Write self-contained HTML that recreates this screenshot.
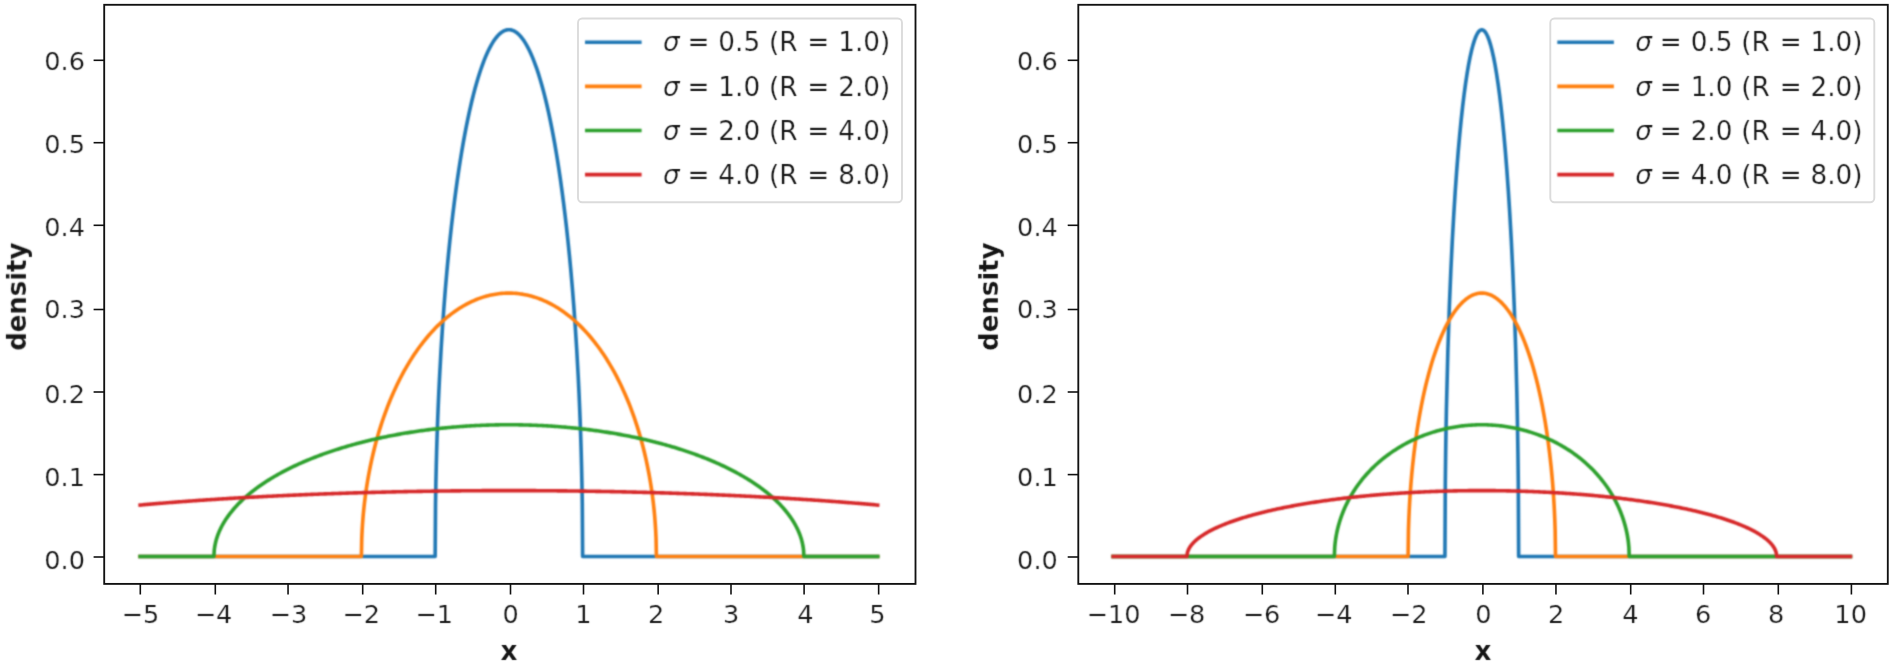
<!DOCTYPE html><html><head><meta charset="utf-8"><title>Wigner semicircle densities</title><style>html,body{margin:0;padding:0;background:#fff;overflow:hidden}svg{display:block}text{font-family:"DejaVu Sans","Liberation Sans",sans-serif;fill:#151515;stroke:#fff;stroke-width:0.2px}.b{font-weight:bold}.lg{word-spacing:0.5px}</style></head><body>
<svg width="1892" height="670" viewBox="0 0 1892 670">
<defs>
<filter id="bl" x="0" y="0" width="1892" height="670" filterUnits="userSpaceOnUse" color-interpolation-filters="sRGB"><feConvolveMatrix order="5" kernelMatrix="0.00000 0.00013 0.00070 0.00013 0.00000 0.00013 0.01910 0.09973 0.01910 0.00013 0.00070 0.09973 0.52080 0.09973 0.00070 0.00013 0.01910 0.09973 0.01910 0.00013 0.00000 0.00013 0.00070 0.00013 0.00000" edgeMode="duplicate" preserveAlpha="false"/></filter>
<filter id="blc" x="0" y="0" width="1892" height="670" filterUnits="userSpaceOnUse" color-interpolation-filters="sRGB"><feConvolveMatrix order="5" kernelMatrix="0.00048 0.00501 0.01095 0.00501 0.00048 0.00501 0.05222 0.11405 0.05222 0.00501 0.01095 0.11405 0.24912 0.11405 0.01095 0.00501 0.05222 0.11405 0.05222 0.00501 0.00048 0.00501 0.01095 0.00501 0.00048" edgeMode="duplicate" preserveAlpha="false"/></filter>
</defs>
<rect width="1892" height="670" fill="#fff"/>
<g filter="url(#blc)">
<polyline points="140.15,556.45 435.15,556.45 435.52,503.84 435.89,482.14 436.26,465.56 436.62,451.63 436.99,439.41 437.36,428.40 437.73,418.31 438.10,408.96 438.47,400.22 438.84,391.98 439.58,376.74 441.05,350.01 442.52,326.85 444.00,306.26 445.47,287.66 446.95,270.65 448.42,254.96 449.90,240.41 451.37,226.83 452.85,214.11 454.32,202.16 455.80,190.91 457.27,180.28 458.75,170.24 460.22,160.73 461.70,151.72 463.17,143.17 464.65,135.06 466.12,127.36 467.60,120.05 469.07,113.11 470.55,106.53 472.02,100.28 473.50,94.36 474.97,88.75 476.45,83.44 477.92,78.42 479.40,73.69 480.88,69.22 482.35,65.03 483.82,61.09 485.30,57.41 486.77,53.97 488.25,50.78 489.73,47.83 491.20,45.11 492.68,42.62 494.15,40.35 495.62,38.31 497.10,36.50 498.57,34.90 500.05,33.52 501.52,32.35 503.00,31.40 504.48,30.66 505.95,30.13 507.43,29.82 508.90,29.71 510.38,29.82 511.85,30.13 513.33,30.66 514.80,31.40 516.27,32.35 517.75,33.52 519.22,34.90 520.70,36.50 522.17,38.31 523.65,40.35 525.12,42.62 526.60,45.11 528.07,47.83 529.55,50.78 531.02,53.97 532.50,57.41 533.97,61.09 535.45,65.03 536.92,69.22 538.40,73.69 539.88,78.42 541.35,83.44 542.82,88.75 544.30,94.36 545.77,100.28 547.25,106.53 548.73,113.11 550.20,120.05 551.67,127.36 553.15,135.06 554.62,143.17 556.10,151.72 557.58,160.73 559.05,170.24 560.52,180.28 562.00,190.91 563.48,202.16 564.95,214.11 566.42,226.83 567.90,240.41 569.38,254.96 570.85,270.65 572.33,287.66 573.80,306.26 575.27,326.85 576.75,350.01 578.23,376.74 578.96,391.98 579.33,400.22 579.70,408.96 580.07,418.31 580.44,428.40 580.81,439.41 581.17,451.63 581.54,465.56 581.91,482.14 582.28,503.84 582.65,556.45 877.65,556.45" fill="none" stroke="#1f77b4" stroke-width="3.60" stroke-linejoin="round" stroke-linecap="square"/>
<polyline points="140.15,556.45 361.40,556.45 361.77,537.84 362.14,530.15 362.51,524.25 362.88,519.30 363.24,514.94 363.61,511.00 363.98,507.39 364.35,504.04 364.72,500.90 365.09,497.93 365.46,495.11 365.82,492.42 366.19,489.85 366.56,487.38 366.93,485.00 367.30,482.71 367.67,480.49 368.04,478.33 368.41,476.24 368.77,474.21 370.25,466.60 371.73,459.65 373.20,453.23 374.67,447.25 376.15,441.65 377.62,436.36 379.10,431.36 380.57,426.60 382.05,422.05 383.52,417.71 385.00,413.55 386.47,409.55 387.95,405.71 389.42,402.00 390.90,398.43 392.38,394.98 393.85,391.64 395.32,388.41 396.80,385.28 398.27,382.25 399.75,379.31 401.22,376.45 402.70,373.68 404.17,370.98 405.65,368.37 407.12,365.82 408.60,363.34 410.07,360.93 411.55,358.59 413.02,356.31 414.50,354.08 415.98,351.92 417.45,349.81 418.93,347.76 420.40,345.75 421.88,343.80 423.35,341.90 424.82,340.05 426.30,338.25 427.77,336.49 429.25,334.78 430.72,333.11 432.20,331.49 433.67,329.91 435.15,328.37 436.62,326.86 438.10,325.40 439.58,323.98 441.05,322.60 442.52,321.25 444.00,319.94 445.47,318.67 446.95,317.44 448.42,316.23 449.90,315.07 451.37,313.94 452.85,312.84 454.32,311.77 455.80,310.74 457.27,309.74 458.75,308.77 460.22,307.83 461.70,306.93 463.17,306.05 464.65,305.21 466.12,304.40 467.60,303.62 469.07,302.86 470.55,302.14 472.02,301.44 473.50,300.78 474.97,300.14 476.45,299.53 477.92,298.95 479.40,298.40 480.88,297.88 482.35,297.38 483.82,296.91 485.30,296.47 486.77,296.06 488.25,295.67 489.73,295.32 491.20,294.98 492.68,294.68 494.15,294.40 495.62,294.15 497.10,293.92 498.57,293.73 500.05,293.55 501.52,293.41 503.00,293.29 504.48,293.20 505.95,293.13 507.43,293.09 508.90,293.08 510.38,293.09 511.85,293.13 513.33,293.20 514.80,293.29 516.27,293.41 517.75,293.55 519.22,293.73 520.70,293.92 522.17,294.15 523.65,294.40 525.12,294.68 526.60,294.98 528.07,295.32 529.55,295.67 531.02,296.06 532.50,296.47 533.97,296.91 535.45,297.38 536.92,297.88 538.40,298.40 539.88,298.95 541.35,299.53 542.82,300.14 544.30,300.78 545.77,301.44 547.25,302.14 548.73,302.86 550.20,303.62 551.67,304.40 553.15,305.21 554.62,306.05 556.10,306.93 557.58,307.83 559.05,308.77 560.52,309.74 562.00,310.74 563.48,311.77 564.95,312.84 566.42,313.94 567.90,315.07 569.38,316.23 570.85,317.44 572.33,318.67 573.80,319.94 575.27,321.25 576.75,322.60 578.23,323.98 579.70,325.40 581.17,326.86 582.65,328.37 584.12,329.91 585.60,331.49 587.08,333.11 588.55,334.78 590.02,336.49 591.50,338.25 592.98,340.05 594.45,341.90 595.92,343.80 597.40,345.75 598.88,347.76 600.35,349.81 601.82,351.92 603.30,354.08 604.77,356.31 606.25,358.59 607.72,360.93 609.20,363.34 610.67,365.82 612.15,368.37 613.62,370.98 615.10,373.68 616.57,376.45 618.05,379.31 619.52,382.25 621.00,385.28 622.48,388.41 623.95,391.64 625.42,394.98 626.90,398.43 628.38,402.00 629.85,405.71 631.33,409.55 632.80,413.55 634.27,417.71 635.75,422.05 637.23,426.60 638.70,431.36 640.17,436.36 641.65,441.65 643.12,447.25 644.60,453.23 646.08,459.65 647.55,466.60 649.02,474.21 649.39,476.24 649.76,478.33 650.13,480.49 650.50,482.71 650.87,485.00 651.24,487.38 651.61,489.85 651.98,492.42 652.34,495.11 652.71,497.93 653.08,500.90 653.45,504.04 653.82,507.39 654.19,511.00 654.56,514.94 654.92,519.30 655.29,524.25 655.66,530.15 656.03,537.84 656.40,556.45 877.65,556.45" fill="none" stroke="#ff7f0e" stroke-width="3.60" stroke-linejoin="round" stroke-linecap="square"/>
<polyline points="140.15,556.45 213.90,556.45 214.27,549.87 214.64,547.14 215.01,545.06 215.38,543.30 215.74,541.75 216.11,540.35 216.48,539.07 216.85,537.87 217.22,536.75 217.59,535.69 217.96,534.69 218.32,533.73 218.69,532.81 219.06,531.92 219.43,531.07 219.80,530.25 220.17,529.45 220.54,528.67 220.91,527.92 221.27,527.19 221.64,526.48 222.01,525.78 222.38,525.10 222.75,524.44 223.12,523.79 223.49,523.15 223.86,522.53 224.22,521.92 224.59,521.32 224.96,520.73 225.33,520.15 225.70,519.58 226.07,519.02 226.44,518.47 226.81,517.93 227.17,517.39 227.54,516.87 227.91,516.35 228.28,515.84 228.65,515.33 230.12,513.38 231.60,511.52 233.07,509.75 234.55,508.05 236.02,506.41 237.50,504.84 238.97,503.32 240.45,501.85 241.92,500.43 243.40,499.05 244.88,497.71 246.35,496.41 247.82,495.14 249.30,493.90 250.77,492.70 252.25,491.52 253.72,490.37 255.20,489.25 256.67,488.15 258.15,487.08 259.62,486.03 261.10,485.00 262.57,483.99 264.05,483.00 265.52,482.03 267.00,481.08 268.48,480.14 269.95,479.23 271.42,478.32 272.90,477.44 274.38,476.57 275.85,475.71 277.32,474.87 278.80,474.04 280.27,473.23 281.75,472.43 283.22,471.64 284.70,470.87 286.17,470.10 287.65,469.35 289.12,468.61 290.60,467.88 292.07,467.16 293.55,466.45 295.02,465.75 296.50,465.06 297.98,464.39 299.45,463.72 300.92,463.06 302.40,462.41 303.88,461.77 305.35,461.14 306.82,460.51 308.30,459.90 309.77,459.29 311.25,458.69 312.72,458.10 314.20,457.52 315.67,456.95 317.15,456.38 318.62,455.82 320.10,455.27 321.57,454.72 323.05,454.18 324.52,453.65 326.00,453.13 327.47,452.61 328.95,452.10 330.42,451.60 331.90,451.10 333.38,450.61 334.85,450.13 336.32,449.65 337.80,449.18 339.27,448.71 340.75,448.25 342.23,447.80 343.70,447.35 345.17,446.91 346.65,446.47 348.12,446.04 349.60,445.62 351.07,445.20 352.55,444.78 354.02,444.37 355.50,443.97 356.97,443.57 358.45,443.18 359.92,442.79 361.40,442.41 362.88,442.03 364.35,441.66 365.82,441.29 367.30,440.93 368.77,440.57 370.25,440.22 371.73,439.87 373.20,439.52 374.67,439.19 376.15,438.85 377.62,438.52 379.10,438.20 380.57,437.88 382.05,437.56 383.52,437.25 385.00,436.94 386.47,436.64 387.95,436.34 389.42,436.05 390.90,435.76 392.38,435.47 393.85,435.19 395.32,434.92 396.80,434.64 398.27,434.37 399.75,434.11 401.22,433.85 402.70,433.59 404.17,433.34 405.65,433.09 407.12,432.85 408.60,432.61 410.07,432.37 411.55,432.14 413.02,431.91 414.50,431.69 415.98,431.47 417.45,431.25 418.93,431.04 420.40,430.83 421.88,430.63 423.35,430.42 424.82,430.23 426.30,430.03 427.77,429.84 429.25,429.66 430.72,429.47 432.20,429.29 433.67,429.12 435.15,428.95 436.62,428.78 438.10,428.61 439.58,428.45 441.05,428.30 442.52,428.14 444.00,427.99 445.47,427.84 446.95,427.70 448.42,427.56 449.90,427.43 451.37,427.29 452.85,427.16 454.32,427.04 455.80,426.92 457.27,426.80 458.75,426.68 460.22,426.57 461.70,426.46 463.17,426.36 464.65,426.26 466.12,426.16 467.60,426.06 469.07,425.97 470.55,425.88 472.02,425.80 473.50,425.72 474.97,425.64 476.45,425.56 477.92,425.49 479.40,425.43 480.88,425.36 482.35,425.30 483.82,425.24 485.30,425.19 486.77,425.14 488.25,425.09 489.73,425.04 491.20,425.00 492.68,424.96 494.15,424.93 495.62,424.90 497.10,424.87 498.57,424.85 500.05,424.82 501.52,424.81 503.00,424.79 504.48,424.78 505.95,424.77 507.43,424.77 508.90,424.77 510.38,424.77 511.85,424.77 513.33,424.78 514.80,424.79 516.27,424.81 517.75,424.82 519.22,424.85 520.70,424.87 522.17,424.90 523.65,424.93 525.12,424.96 526.60,425.00 528.07,425.04 529.55,425.09 531.02,425.14 532.50,425.19 533.97,425.24 535.45,425.30 536.92,425.36 538.40,425.43 539.88,425.49 541.35,425.56 542.82,425.64 544.30,425.72 545.77,425.80 547.25,425.88 548.73,425.97 550.20,426.06 551.67,426.16 553.15,426.26 554.62,426.36 556.10,426.46 557.58,426.57 559.05,426.68 560.52,426.80 562.00,426.92 563.48,427.04 564.95,427.16 566.42,427.29 567.90,427.43 569.38,427.56 570.85,427.70 572.33,427.84 573.80,427.99 575.27,428.14 576.75,428.30 578.23,428.45 579.70,428.61 581.17,428.78 582.65,428.95 584.12,429.12 585.60,429.29 587.08,429.47 588.55,429.66 590.02,429.84 591.50,430.03 592.98,430.23 594.45,430.42 595.92,430.63 597.40,430.83 598.88,431.04 600.35,431.25 601.82,431.47 603.30,431.69 604.77,431.91 606.25,432.14 607.72,432.37 609.20,432.61 610.67,432.85 612.15,433.09 613.62,433.34 615.10,433.59 616.57,433.85 618.05,434.11 619.52,434.37 621.00,434.64 622.48,434.92 623.95,435.19 625.42,435.47 626.90,435.76 628.38,436.05 629.85,436.34 631.33,436.64 632.80,436.94 634.27,437.25 635.75,437.56 637.23,437.88 638.70,438.20 640.17,438.52 641.65,438.85 643.12,439.19 644.60,439.52 646.08,439.87 647.55,440.22 649.02,440.57 650.50,440.93 651.98,441.29 653.45,441.66 654.92,442.03 656.40,442.41 657.88,442.79 659.35,443.18 660.83,443.57 662.30,443.97 663.77,444.37 665.25,444.78 666.73,445.20 668.20,445.62 669.67,446.04 671.15,446.47 672.62,446.91 674.10,447.35 675.57,447.80 677.05,448.25 678.52,448.71 680.00,449.18 681.47,449.65 682.95,450.13 684.42,450.61 685.90,451.10 687.38,451.60 688.85,452.10 690.33,452.61 691.80,453.13 693.27,453.65 694.75,454.18 696.22,454.72 697.70,455.27 699.17,455.82 700.65,456.38 702.12,456.95 703.60,457.52 705.08,458.10 706.55,458.69 708.02,459.29 709.50,459.90 710.98,460.51 712.45,461.14 713.92,461.77 715.40,462.41 716.88,463.06 718.35,463.72 719.83,464.39 721.30,465.06 722.77,465.75 724.25,466.45 725.73,467.16 727.20,467.88 728.67,468.61 730.15,469.35 731.62,470.10 733.10,470.87 734.58,471.64 736.05,472.43 737.52,473.23 739.00,474.04 740.48,474.87 741.95,475.71 743.42,476.57 744.90,477.44 746.38,478.32 747.85,479.23 749.32,480.14 750.80,481.08 752.28,482.03 753.75,483.00 755.22,483.99 756.70,485.00 758.18,486.03 759.65,487.08 761.12,488.15 762.60,489.25 764.08,490.37 765.55,491.52 767.02,492.70 768.50,493.90 769.98,495.14 771.45,496.41 772.92,497.71 774.40,499.05 775.88,500.43 777.35,501.85 778.83,503.32 780.30,504.84 781.78,506.41 783.25,508.05 784.72,509.75 786.20,511.52 787.67,513.38 789.15,515.33 789.52,515.84 789.89,516.35 790.26,516.87 790.62,517.39 790.99,517.93 791.36,518.47 791.73,519.02 792.10,519.58 792.47,520.15 792.84,520.73 793.21,521.32 793.57,521.92 793.94,522.53 794.31,523.15 794.68,523.79 795.05,524.44 795.42,525.10 795.79,525.78 796.16,526.48 796.52,527.19 796.89,527.92 797.26,528.67 797.63,529.45 798.00,530.25 798.37,531.07 798.74,531.92 799.11,532.81 799.47,533.73 799.84,534.69 800.21,535.69 800.58,536.75 800.95,537.87 801.32,539.07 801.69,540.35 802.06,541.75 802.42,543.30 802.79,545.06 803.16,547.14 803.53,549.87 803.90,556.45 877.65,556.45" fill="none" stroke="#2ca02c" stroke-width="3.60" stroke-linejoin="round" stroke-linecap="square"/>
<polyline points="140.15,505.05 141.62,504.92 143.10,504.79 144.57,504.66 146.05,504.53 147.52,504.40 149.00,504.28 150.47,504.15 151.95,504.02 153.42,503.90 154.90,503.78 156.37,503.65 157.85,503.53 159.32,503.41 160.80,503.29 162.27,503.17 163.75,503.05 165.22,502.93 166.70,502.81 168.17,502.70 169.65,502.58 171.12,502.47 172.60,502.35 174.07,502.24 175.55,502.12 177.02,502.01 178.50,501.90 179.97,501.79 181.45,501.68 182.92,501.57 184.40,501.46 185.88,501.35 187.35,501.25 188.82,501.14 190.30,501.03 191.77,500.93 193.25,500.82 194.72,500.72 196.20,500.62 197.68,500.51 199.15,500.41 200.62,500.31 202.10,500.21 203.57,500.11 205.05,500.01 206.52,499.91 208.00,499.81 209.48,499.72 210.95,499.62 212.43,499.52 213.90,499.43 215.38,499.33 216.85,499.24 218.32,499.15 219.80,499.05 221.27,498.96 222.75,498.87 224.22,498.78 225.70,498.69 227.17,498.60 228.65,498.51 230.12,498.42 231.60,498.33 233.07,498.25 234.55,498.16 236.02,498.07 237.50,497.99 238.97,497.90 240.45,497.82 241.92,497.73 243.40,497.65 244.88,497.57 246.35,497.49 247.82,497.40 249.30,497.32 250.77,497.24 252.25,497.16 253.72,497.08 255.20,497.01 256.67,496.93 258.15,496.85 259.62,496.77 261.10,496.70 262.57,496.62 264.05,496.55 265.52,496.47 267.00,496.40 268.48,496.32 269.95,496.25 271.42,496.18 272.90,496.10 274.38,496.03 275.85,495.96 277.32,495.89 278.80,495.82 280.27,495.75 281.75,495.68 283.22,495.61 284.70,495.55 286.17,495.48 287.65,495.41 289.12,495.35 290.60,495.28 292.07,495.22 293.55,495.15 295.02,495.09 296.50,495.02 297.98,494.96 299.45,494.90 300.92,494.83 302.40,494.77 303.88,494.71 305.35,494.65 306.82,494.59 308.30,494.53 309.77,494.47 311.25,494.41 312.72,494.35 314.20,494.30 315.67,494.24 317.15,494.18 318.62,494.13 320.10,494.07 321.57,494.01 323.05,493.96 324.52,493.91 326.00,493.85 327.47,493.80 328.95,493.74 330.42,493.69 331.90,493.64 333.38,493.59 334.85,493.54 336.32,493.49 337.80,493.44 339.27,493.39 340.75,493.34 342.23,493.29 343.70,493.24 345.17,493.19 346.65,493.15 348.12,493.10 349.60,493.05 351.07,493.01 352.55,492.96 354.02,492.92 355.50,492.87 356.97,492.83 358.45,492.78 359.92,492.74 361.40,492.70 362.88,492.66 364.35,492.61 365.82,492.57 367.30,492.53 368.77,492.49 370.25,492.45 371.73,492.41 373.20,492.37 374.67,492.33 376.15,492.30 377.62,492.26 379.10,492.22 380.57,492.18 382.05,492.15 383.52,492.11 385.00,492.08 386.47,492.04 387.95,492.01 389.42,491.97 390.90,491.94 392.38,491.90 393.85,491.87 395.32,491.84 396.80,491.81 398.27,491.78 399.75,491.74 401.22,491.71 402.70,491.68 404.17,491.65 405.65,491.62 407.12,491.59 408.60,491.57 410.07,491.54 411.55,491.51 413.02,491.48 414.50,491.46 415.98,491.43 417.45,491.40 418.93,491.38 420.40,491.35 421.88,491.33 423.35,491.30 424.82,491.28 426.30,491.26 427.77,491.23 429.25,491.21 430.72,491.19 432.20,491.17 433.67,491.14 435.15,491.12 436.62,491.10 438.10,491.08 439.58,491.06 441.05,491.04 442.52,491.03 444.00,491.01 445.47,490.99 446.95,490.97 448.42,490.95 449.90,490.94 451.37,490.92 452.85,490.91 454.32,490.89 455.80,490.87 457.27,490.86 458.75,490.85 460.22,490.83 461.70,490.82 463.17,490.81 464.65,490.79 466.12,490.78 467.60,490.77 469.07,490.76 470.55,490.75 472.02,490.74 473.50,490.73 474.97,490.72 476.45,490.71 477.92,490.70 479.40,490.69 480.88,490.68 482.35,490.67 483.82,490.67 485.30,490.66 486.77,490.65 488.25,490.65 489.73,490.64 491.20,490.64 492.68,490.63 494.15,490.63 495.62,490.62 497.10,490.62 498.57,490.62 500.05,490.62 501.52,490.61 503.00,490.61 504.48,490.61 505.95,490.61 507.43,490.61 508.90,490.61 510.38,490.61 511.85,490.61 513.33,490.61 514.80,490.61 516.27,490.61 517.75,490.62 519.22,490.62 520.70,490.62 522.17,490.62 523.65,490.63 525.12,490.63 526.60,490.64 528.07,490.64 529.55,490.65 531.02,490.65 532.50,490.66 533.97,490.67 535.45,490.67 536.92,490.68 538.40,490.69 539.88,490.70 541.35,490.71 542.82,490.72 544.30,490.73 545.77,490.74 547.25,490.75 548.73,490.76 550.20,490.77 551.67,490.78 553.15,490.79 554.62,490.81 556.10,490.82 557.58,490.83 559.05,490.85 560.52,490.86 562.00,490.87 563.48,490.89 564.95,490.91 566.42,490.92 567.90,490.94 569.38,490.95 570.85,490.97 572.33,490.99 573.80,491.01 575.27,491.03 576.75,491.04 578.23,491.06 579.70,491.08 581.17,491.10 582.65,491.12 584.12,491.14 585.60,491.17 587.08,491.19 588.55,491.21 590.02,491.23 591.50,491.26 592.98,491.28 594.45,491.30 595.92,491.33 597.40,491.35 598.88,491.38 600.35,491.40 601.82,491.43 603.30,491.46 604.77,491.48 606.25,491.51 607.72,491.54 609.20,491.57 610.67,491.59 612.15,491.62 613.62,491.65 615.10,491.68 616.57,491.71 618.05,491.74 619.52,491.78 621.00,491.81 622.48,491.84 623.95,491.87 625.42,491.90 626.90,491.94 628.38,491.97 629.85,492.01 631.33,492.04 632.80,492.08 634.27,492.11 635.75,492.15 637.23,492.18 638.70,492.22 640.17,492.26 641.65,492.30 643.12,492.33 644.60,492.37 646.08,492.41 647.55,492.45 649.02,492.49 650.50,492.53 651.98,492.57 653.45,492.61 654.92,492.66 656.40,492.70 657.88,492.74 659.35,492.78 660.83,492.83 662.30,492.87 663.77,492.92 665.25,492.96 666.73,493.01 668.20,493.05 669.67,493.10 671.15,493.15 672.62,493.19 674.10,493.24 675.57,493.29 677.05,493.34 678.52,493.39 680.00,493.44 681.47,493.49 682.95,493.54 684.42,493.59 685.90,493.64 687.38,493.69 688.85,493.74 690.33,493.80 691.80,493.85 693.27,493.91 694.75,493.96 696.22,494.01 697.70,494.07 699.17,494.13 700.65,494.18 702.12,494.24 703.60,494.30 705.08,494.35 706.55,494.41 708.02,494.47 709.50,494.53 710.98,494.59 712.45,494.65 713.92,494.71 715.40,494.77 716.88,494.83 718.35,494.90 719.83,494.96 721.30,495.02 722.77,495.09 724.25,495.15 725.73,495.22 727.20,495.28 728.67,495.35 730.15,495.41 731.62,495.48 733.10,495.55 734.58,495.61 736.05,495.68 737.52,495.75 739.00,495.82 740.48,495.89 741.95,495.96 743.42,496.03 744.90,496.10 746.38,496.18 747.85,496.25 749.32,496.32 750.80,496.40 752.28,496.47 753.75,496.55 755.22,496.62 756.70,496.70 758.18,496.77 759.65,496.85 761.12,496.93 762.60,497.01 764.08,497.08 765.55,497.16 767.02,497.24 768.50,497.32 769.98,497.40 771.45,497.49 772.92,497.57 774.40,497.65 775.88,497.73 777.35,497.82 778.83,497.90 780.30,497.99 781.78,498.07 783.25,498.16 784.72,498.25 786.20,498.33 787.67,498.42 789.15,498.51 790.62,498.60 792.10,498.69 793.57,498.78 795.05,498.87 796.52,498.96 798.00,499.05 799.47,499.15 800.95,499.24 802.42,499.33 803.90,499.43 805.38,499.52 806.85,499.62 808.33,499.72 809.80,499.81 811.27,499.91 812.75,500.01 814.23,500.11 815.70,500.21 817.17,500.31 818.65,500.41 820.12,500.51 821.60,500.62 823.08,500.72 824.55,500.82 826.03,500.93 827.50,501.03 828.97,501.14 830.45,501.25 831.92,501.35 833.40,501.46 834.88,501.57 836.35,501.68 837.83,501.79 839.30,501.90 840.77,502.01 842.25,502.12 843.73,502.24 845.20,502.35 846.67,502.47 848.15,502.58 849.62,502.70 851.10,502.81 852.58,502.93 854.05,503.05 855.53,503.17 857.00,503.29 858.47,503.41 859.95,503.53 861.42,503.65 862.90,503.78 864.38,503.90 865.85,504.02 867.32,504.15 868.80,504.28 870.27,504.40 871.75,504.53 873.22,504.66 874.70,504.79 876.17,504.92 877.65,505.05" fill="none" stroke="#d62728" stroke-width="3.60" stroke-linejoin="round" stroke-linecap="square"/>
<polyline points="1113.20,556.45 1444.94,556.45 1445.31,482.14 1445.68,451.63 1446.05,428.40 1446.41,408.96 1447.89,350.01 1449.36,306.26 1450.84,270.65 1452.31,240.41 1453.79,214.11 1455.26,190.91 1456.74,170.24 1458.21,151.72 1459.68,135.06 1461.16,120.05 1462.63,106.53 1464.11,94.36 1465.58,83.44 1467.06,73.69 1468.53,65.03 1470.00,57.41 1471.48,50.78 1472.95,45.11 1474.43,40.35 1475.90,36.50 1477.38,33.52 1478.85,31.40 1480.33,30.13 1481.80,29.71 1483.27,30.13 1484.75,31.40 1486.22,33.52 1487.70,36.50 1489.17,40.35 1490.65,45.11 1492.12,50.78 1493.60,57.41 1495.07,65.03 1496.54,73.69 1498.02,83.44 1499.49,94.36 1500.97,106.53 1502.44,120.05 1503.92,135.06 1505.39,151.72 1506.86,170.24 1508.34,190.91 1509.81,214.11 1511.29,240.41 1512.76,270.65 1514.24,306.26 1515.71,350.01 1516.82,391.98 1517.19,408.96 1517.55,428.40 1517.92,451.63 1518.29,482.14 1518.66,556.45 1850.40,556.45" fill="none" stroke="#1f77b4" stroke-width="3.60" stroke-linejoin="round" stroke-linecap="square"/>
<polyline points="1113.20,556.45 1408.08,556.45 1408.45,530.15 1408.82,519.30 1409.19,511.00 1409.55,504.04 1409.92,497.93 1410.29,492.42 1410.66,487.38 1411.03,482.71 1411.40,478.33 1411.77,474.21 1412.50,466.60 1413.98,453.23 1415.45,441.65 1416.93,431.36 1418.40,422.05 1419.88,413.55 1421.35,405.71 1422.82,398.43 1424.30,391.64 1425.77,385.28 1427.25,379.31 1428.72,373.68 1430.20,368.37 1431.67,363.34 1433.14,358.59 1434.62,354.08 1436.09,349.81 1437.57,345.75 1439.04,341.90 1440.52,338.25 1441.99,334.78 1443.47,331.49 1444.94,328.37 1446.41,325.40 1447.89,322.60 1449.36,319.94 1450.84,317.44 1452.31,315.07 1453.79,312.84 1455.26,310.74 1456.74,308.77 1458.21,306.93 1459.68,305.21 1461.16,303.62 1462.63,302.14 1464.11,300.78 1465.58,299.53 1467.06,298.40 1468.53,297.38 1470.00,296.47 1471.48,295.67 1472.95,294.98 1474.43,294.40 1475.90,293.92 1477.38,293.55 1478.85,293.29 1480.33,293.13 1481.80,293.08 1483.27,293.13 1484.75,293.29 1486.22,293.55 1487.70,293.92 1489.17,294.40 1490.65,294.98 1492.12,295.67 1493.60,296.47 1495.07,297.38 1496.54,298.40 1498.02,299.53 1499.49,300.78 1500.97,302.14 1502.44,303.62 1503.92,305.21 1505.39,306.93 1506.86,308.77 1508.34,310.74 1509.81,312.84 1511.29,315.07 1512.76,317.44 1514.24,319.94 1515.71,322.60 1517.19,325.40 1518.66,328.37 1520.13,331.49 1521.61,334.78 1523.08,338.25 1524.56,341.90 1526.03,345.75 1527.51,349.81 1528.98,354.08 1530.46,358.59 1531.93,363.34 1533.40,368.37 1534.88,373.68 1536.35,379.31 1537.83,385.28 1539.30,391.64 1540.78,398.43 1542.25,405.71 1543.72,413.55 1545.20,422.05 1546.67,431.36 1548.15,441.65 1549.62,453.23 1551.10,466.60 1551.83,474.21 1552.20,478.33 1552.57,482.71 1552.94,487.38 1553.31,492.42 1553.68,497.93 1554.05,504.04 1554.41,511.00 1554.78,519.30 1555.15,530.15 1555.52,556.45 1850.40,556.45" fill="none" stroke="#ff7f0e" stroke-width="3.60" stroke-linejoin="round" stroke-linecap="square"/>
<polyline points="1113.20,556.45 1334.36,556.45 1334.73,547.14 1335.10,543.30 1335.47,540.35 1335.83,537.87 1336.20,535.69 1336.57,533.73 1336.94,531.92 1337.31,530.25 1337.68,528.67 1338.05,527.19 1338.41,525.78 1338.78,524.44 1339.15,523.15 1339.52,521.92 1339.89,520.73 1340.26,519.58 1340.63,518.47 1340.99,517.39 1341.36,516.35 1341.73,515.33 1343.21,511.52 1344.68,508.05 1346.16,504.84 1347.63,501.85 1349.10,499.05 1350.58,496.41 1352.05,493.90 1353.53,491.52 1355.00,489.25 1356.48,487.08 1357.95,485.00 1359.42,483.00 1360.90,481.08 1362.37,479.23 1363.85,477.44 1365.32,475.71 1366.80,474.04 1368.27,472.43 1369.75,470.87 1371.22,469.35 1372.69,467.88 1374.17,466.45 1375.64,465.06 1377.12,463.72 1378.59,462.41 1380.07,461.14 1381.54,459.90 1383.02,458.69 1384.49,457.52 1385.96,456.38 1387.44,455.27 1388.91,454.18 1390.39,453.13 1391.86,452.10 1393.34,451.10 1394.81,450.13 1396.28,449.18 1397.76,448.25 1399.23,447.35 1400.71,446.47 1402.18,445.62 1403.66,444.78 1405.13,443.97 1406.61,443.18 1408.08,442.41 1409.55,441.66 1411.03,440.93 1412.50,440.22 1413.98,439.52 1415.45,438.85 1416.93,438.20 1418.40,437.56 1419.88,436.94 1421.35,436.34 1422.82,435.76 1424.30,435.19 1425.77,434.64 1427.25,434.11 1428.72,433.59 1430.20,433.09 1431.67,432.61 1433.14,432.14 1434.62,431.69 1436.09,431.25 1437.57,430.83 1439.04,430.42 1440.52,430.03 1441.99,429.66 1443.47,429.29 1444.94,428.95 1446.41,428.61 1447.89,428.30 1449.36,427.99 1450.84,427.70 1452.31,427.43 1453.79,427.16 1455.26,426.92 1456.74,426.68 1458.21,426.46 1459.68,426.26 1461.16,426.06 1462.63,425.88 1464.11,425.72 1465.58,425.56 1467.06,425.43 1468.53,425.30 1470.00,425.19 1471.48,425.09 1472.95,425.00 1474.43,424.93 1475.90,424.87 1477.38,424.82 1478.85,424.79 1480.33,424.77 1481.80,424.77 1483.27,424.77 1484.75,424.79 1486.22,424.82 1487.70,424.87 1489.17,424.93 1490.65,425.00 1492.12,425.09 1493.60,425.19 1495.07,425.30 1496.54,425.43 1498.02,425.56 1499.49,425.72 1500.97,425.88 1502.44,426.06 1503.92,426.26 1505.39,426.46 1506.86,426.68 1508.34,426.92 1509.81,427.16 1511.29,427.43 1512.76,427.70 1514.24,427.99 1515.71,428.30 1517.19,428.61 1518.66,428.95 1520.13,429.29 1521.61,429.66 1523.08,430.03 1524.56,430.42 1526.03,430.83 1527.51,431.25 1528.98,431.69 1530.46,432.14 1531.93,432.61 1533.40,433.09 1534.88,433.59 1536.35,434.11 1537.83,434.64 1539.30,435.19 1540.78,435.76 1542.25,436.34 1543.72,436.94 1545.20,437.56 1546.67,438.20 1548.15,438.85 1549.62,439.52 1551.10,440.22 1552.57,440.93 1554.05,441.66 1555.52,442.41 1556.99,443.18 1558.47,443.97 1559.94,444.78 1561.42,445.62 1562.89,446.47 1564.37,447.35 1565.84,448.25 1567.32,449.18 1568.79,450.13 1570.26,451.10 1571.74,452.10 1573.21,453.13 1574.69,454.18 1576.16,455.27 1577.64,456.38 1579.11,457.52 1580.58,458.69 1582.06,459.90 1583.53,461.14 1585.01,462.41 1586.48,463.72 1587.96,465.06 1589.43,466.45 1590.91,467.88 1592.38,469.35 1593.85,470.87 1595.33,472.43 1596.80,474.04 1598.28,475.71 1599.75,477.44 1601.23,479.23 1602.70,481.08 1604.18,483.00 1605.65,485.00 1607.12,487.08 1608.60,489.25 1610.07,491.52 1611.55,493.90 1613.02,496.41 1614.50,499.05 1615.97,501.85 1617.44,504.84 1618.92,508.05 1620.39,511.52 1621.87,515.33 1622.24,516.35 1622.61,517.39 1622.97,518.47 1623.34,519.58 1623.71,520.73 1624.08,521.92 1624.45,523.15 1624.82,524.44 1625.19,525.78 1625.55,527.19 1625.92,528.67 1626.29,530.25 1626.66,531.92 1627.03,533.73 1627.40,535.69 1627.77,537.87 1628.13,540.35 1628.50,543.30 1628.87,547.14 1629.24,556.45 1850.40,556.45" fill="none" stroke="#2ca02c" stroke-width="3.60" stroke-linejoin="round" stroke-linecap="square"/>
<polyline points="1113.20,556.45 1186.92,556.45 1187.29,553.16 1187.66,551.80 1188.03,550.75 1188.39,549.87 1188.76,549.10 1189.13,548.40 1189.50,547.76 1189.87,547.16 1190.24,546.60 1190.61,546.07 1190.97,545.57 1191.34,545.09 1191.71,544.63 1192.08,544.19 1192.45,543.76 1192.82,543.35 1193.19,542.95 1193.55,542.56 1193.92,542.19 1194.29,541.82 1194.66,541.46 1195.03,541.12 1195.40,540.78 1195.77,540.44 1196.13,540.12 1196.50,539.80 1196.87,539.49 1197.24,539.18 1197.61,538.88 1197.98,538.59 1198.35,538.30 1198.72,538.01 1199.08,537.73 1199.45,537.46 1199.82,537.19 1200.19,536.92 1200.56,536.66 1200.93,536.40 1201.30,536.14 1201.66,535.89 1203.14,534.91 1204.61,533.99 1206.09,533.10 1207.56,532.25 1209.04,531.43 1210.51,530.65 1211.98,529.89 1213.46,529.15 1214.93,528.44 1216.41,527.75 1217.88,527.08 1219.36,526.43 1220.83,525.79 1222.31,525.18 1223.78,524.57 1225.25,523.99 1226.73,523.41 1228.20,522.85 1229.68,522.30 1231.15,521.77 1232.63,521.24 1234.10,520.72 1235.58,520.22 1237.05,519.73 1238.52,519.24 1240.00,518.76 1241.47,518.30 1242.95,517.84 1244.42,517.39 1245.90,516.94 1247.37,516.51 1248.84,516.08 1250.32,515.66 1251.79,515.25 1253.27,514.84 1254.74,514.44 1256.22,514.05 1257.69,513.66 1259.17,513.28 1260.64,512.90 1262.11,512.53 1263.59,512.16 1265.06,511.80 1266.54,511.45 1268.01,511.10 1269.49,510.76 1270.96,510.42 1272.44,510.08 1273.91,509.75 1275.38,509.43 1276.86,509.11 1278.33,508.79 1279.81,508.48 1281.28,508.17 1282.76,507.87 1284.23,507.57 1285.70,507.28 1287.18,506.98 1288.65,506.70 1290.13,506.41 1291.60,506.13 1293.08,505.86 1294.55,505.59 1296.03,505.32 1297.50,505.05 1298.97,504.79 1300.45,504.53 1301.92,504.28 1303.40,504.02 1304.87,503.78 1306.35,503.53 1307.82,503.29 1309.30,503.05 1310.77,502.81 1312.24,502.58 1313.72,502.35 1315.19,502.12 1316.67,501.90 1318.14,501.68 1319.62,501.46 1321.09,501.25 1322.56,501.03 1324.04,500.82 1325.51,500.62 1326.99,500.41 1328.46,500.21 1329.94,500.01 1331.41,499.81 1332.89,499.62 1334.36,499.43 1335.83,499.24 1337.31,499.05 1338.78,498.87 1340.26,498.69 1341.73,498.51 1343.21,498.33 1344.68,498.16 1346.16,497.99 1347.63,497.82 1349.10,497.65 1350.58,497.49 1352.05,497.32 1353.53,497.16 1355.00,497.01 1356.48,496.85 1357.95,496.70 1359.42,496.55 1360.90,496.40 1362.37,496.25 1363.85,496.10 1365.32,495.96 1366.80,495.82 1368.27,495.68 1369.75,495.55 1371.22,495.41 1372.69,495.28 1374.17,495.15 1375.64,495.02 1377.12,494.90 1378.59,494.77 1380.07,494.65 1381.54,494.53 1383.02,494.41 1384.49,494.30 1385.96,494.18 1387.44,494.07 1388.91,493.96 1390.39,493.85 1391.86,493.74 1393.34,493.64 1394.81,493.54 1396.28,493.44 1397.76,493.34 1399.23,493.24 1400.71,493.15 1402.18,493.05 1403.66,492.96 1405.13,492.87 1406.61,492.78 1408.08,492.70 1409.55,492.61 1411.03,492.53 1412.50,492.45 1413.98,492.37 1415.45,492.30 1416.93,492.22 1418.40,492.15 1419.88,492.08 1421.35,492.01 1422.82,491.94 1424.30,491.87 1425.77,491.81 1427.25,491.74 1428.72,491.68 1430.20,491.62 1431.67,491.57 1433.14,491.51 1434.62,491.46 1436.09,491.40 1437.57,491.35 1439.04,491.30 1440.52,491.26 1441.99,491.21 1443.47,491.17 1444.94,491.12 1446.41,491.08 1447.89,491.04 1449.36,491.01 1450.84,490.97 1452.31,490.94 1453.79,490.91 1455.26,490.87 1456.74,490.85 1458.21,490.82 1459.68,490.79 1461.16,490.77 1462.63,490.75 1464.11,490.73 1465.58,490.71 1467.06,490.69 1468.53,490.67 1470.00,490.66 1471.48,490.65 1472.95,490.64 1474.43,490.63 1475.90,490.62 1477.38,490.62 1478.85,490.61 1480.33,490.61 1481.80,490.61 1483.27,490.61 1484.75,490.61 1486.22,490.62 1487.70,490.62 1489.17,490.63 1490.65,490.64 1492.12,490.65 1493.60,490.66 1495.07,490.67 1496.54,490.69 1498.02,490.71 1499.49,490.73 1500.97,490.75 1502.44,490.77 1503.92,490.79 1505.39,490.82 1506.86,490.85 1508.34,490.87 1509.81,490.91 1511.29,490.94 1512.76,490.97 1514.24,491.01 1515.71,491.04 1517.19,491.08 1518.66,491.12 1520.13,491.17 1521.61,491.21 1523.08,491.26 1524.56,491.30 1526.03,491.35 1527.51,491.40 1528.98,491.46 1530.46,491.51 1531.93,491.57 1533.40,491.62 1534.88,491.68 1536.35,491.74 1537.83,491.81 1539.30,491.87 1540.78,491.94 1542.25,492.01 1543.72,492.08 1545.20,492.15 1546.67,492.22 1548.15,492.30 1549.62,492.37 1551.10,492.45 1552.57,492.53 1554.05,492.61 1555.52,492.70 1556.99,492.78 1558.47,492.87 1559.94,492.96 1561.42,493.05 1562.89,493.15 1564.37,493.24 1565.84,493.34 1567.32,493.44 1568.79,493.54 1570.26,493.64 1571.74,493.74 1573.21,493.85 1574.69,493.96 1576.16,494.07 1577.64,494.18 1579.11,494.30 1580.58,494.41 1582.06,494.53 1583.53,494.65 1585.01,494.77 1586.48,494.90 1587.96,495.02 1589.43,495.15 1590.91,495.28 1592.38,495.41 1593.85,495.55 1595.33,495.68 1596.80,495.82 1598.28,495.96 1599.75,496.10 1601.23,496.25 1602.70,496.40 1604.18,496.55 1605.65,496.70 1607.12,496.85 1608.60,497.01 1610.07,497.16 1611.55,497.32 1613.02,497.49 1614.50,497.65 1615.97,497.82 1617.44,497.99 1618.92,498.16 1620.39,498.33 1621.87,498.51 1623.34,498.69 1624.82,498.87 1626.29,499.05 1627.77,499.24 1629.24,499.43 1630.71,499.62 1632.19,499.81 1633.66,500.01 1635.14,500.21 1636.61,500.41 1638.09,500.62 1639.56,500.82 1641.04,501.03 1642.51,501.25 1643.98,501.46 1645.46,501.68 1646.93,501.90 1648.41,502.12 1649.88,502.35 1651.36,502.58 1652.83,502.81 1654.30,503.05 1655.78,503.29 1657.25,503.53 1658.73,503.78 1660.20,504.02 1661.68,504.28 1663.15,504.53 1664.63,504.79 1666.10,505.05 1667.57,505.32 1669.05,505.59 1670.52,505.86 1672.00,506.13 1673.47,506.41 1674.95,506.70 1676.42,506.98 1677.90,507.28 1679.37,507.57 1680.84,507.87 1682.32,508.17 1683.79,508.48 1685.27,508.79 1686.74,509.11 1688.22,509.43 1689.69,509.75 1691.16,510.08 1692.64,510.42 1694.11,510.76 1695.59,511.10 1697.06,511.45 1698.54,511.80 1700.01,512.16 1701.49,512.53 1702.96,512.90 1704.43,513.28 1705.91,513.66 1707.38,514.05 1708.86,514.44 1710.33,514.84 1711.81,515.25 1713.28,515.66 1714.76,516.08 1716.23,516.51 1717.70,516.94 1719.18,517.39 1720.65,517.84 1722.13,518.30 1723.60,518.76 1725.08,519.24 1726.55,519.73 1728.02,520.22 1729.50,520.72 1730.97,521.24 1732.45,521.77 1733.92,522.30 1735.40,522.85 1736.87,523.41 1738.35,523.99 1739.82,524.57 1741.29,525.18 1742.77,525.79 1744.24,526.43 1745.72,527.08 1747.19,527.75 1748.67,528.44 1750.14,529.15 1751.62,529.89 1753.09,530.65 1754.56,531.43 1756.04,532.25 1757.51,533.10 1758.99,533.99 1760.46,534.91 1761.94,535.89 1762.30,536.14 1762.67,536.40 1763.04,536.66 1763.41,536.92 1763.78,537.19 1764.15,537.46 1764.52,537.73 1764.88,538.01 1765.25,538.30 1765.62,538.59 1765.99,538.88 1766.36,539.18 1766.73,539.49 1767.10,539.80 1767.46,540.12 1767.83,540.44 1768.20,540.78 1768.57,541.12 1768.94,541.46 1769.31,541.82 1769.68,542.19 1770.05,542.56 1770.41,542.95 1770.78,543.35 1771.15,543.76 1771.52,544.19 1771.89,544.63 1772.26,545.09 1772.63,545.57 1772.99,546.07 1773.36,546.60 1773.73,547.16 1774.10,547.76 1774.47,548.40 1774.84,549.10 1775.21,549.87 1775.57,550.75 1775.94,551.80 1776.31,553.16 1776.68,556.45 1850.40,556.45" fill="none" stroke="#d62728" stroke-width="3.60" stroke-linejoin="round" stroke-linecap="square"/>
</g>
<g>
<rect x="104.2" y="4.8" width="811.30" height="579.10" fill="none" stroke="#111" stroke-width="1.85"/>
<line x1="140.30" x2="140.30" y1="583.9" y2="594.50" stroke="#111" stroke-width="1.60"/>
<line x1="215.30" x2="215.30" y1="583.9" y2="594.50" stroke="#111" stroke-width="1.60"/>
<line x1="288.05" x2="288.05" y1="583.9" y2="594.50" stroke="#111" stroke-width="1.60"/>
<line x1="362.70" x2="362.70" y1="583.9" y2="594.50" stroke="#111" stroke-width="1.60"/>
<line x1="435.70" x2="435.70" y1="583.9" y2="594.50" stroke="#111" stroke-width="1.60"/>
<line x1="510.50" x2="510.50" y1="583.9" y2="594.50" stroke="#111" stroke-width="1.60"/>
<line x1="583.50" x2="583.50" y1="583.9" y2="594.50" stroke="#111" stroke-width="1.60"/>
<line x1="658.15" x2="658.15" y1="583.9" y2="594.50" stroke="#111" stroke-width="1.60"/>
<line x1="731.00" x2="731.00" y1="583.9" y2="594.50" stroke="#111" stroke-width="1.60"/>
<line x1="804.10" x2="804.10" y1="583.9" y2="594.50" stroke="#111" stroke-width="1.60"/>
<line x1="878.65" x2="878.65" y1="583.9" y2="594.50" stroke="#111" stroke-width="1.60"/>
<line x1="93.60" x2="104.2" y1="557.00" y2="557.00" stroke="#111" stroke-width="1.60"/>
<line x1="93.60" x2="104.2" y1="474.60" y2="474.60" stroke="#111" stroke-width="1.60"/>
<line x1="93.60" x2="104.2" y1="392.00" y2="392.00" stroke="#111" stroke-width="1.60"/>
<line x1="93.60" x2="104.2" y1="309.50" y2="309.50" stroke="#111" stroke-width="1.60"/>
<line x1="93.60" x2="104.2" y1="225.30" y2="225.30" stroke="#111" stroke-width="1.60"/>
<line x1="93.60" x2="104.2" y1="142.70" y2="142.70" stroke="#111" stroke-width="1.60"/>
<line x1="93.60" x2="104.2" y1="60.30" y2="60.30" stroke="#111" stroke-width="1.60"/>
<rect x="578.00" y="18.45" width="324.0" height="183.75" rx="4.20" fill="#fff" fill-opacity="0.8" stroke="#ccc" stroke-opacity="0.7" stroke-width="1.9"/>
<rect x="1078.3" y="4.8" width="809.50" height="579.10" fill="none" stroke="#111" stroke-width="1.85"/>
<line x1="1114.70" x2="1114.70" y1="583.9" y2="594.50" stroke="#111" stroke-width="1.60"/>
<line x1="1187.50" x2="1187.50" y1="583.9" y2="594.50" stroke="#111" stroke-width="1.60"/>
<line x1="1262.30" x2="1262.30" y1="583.9" y2="594.50" stroke="#111" stroke-width="1.60"/>
<line x1="1335.30" x2="1335.30" y1="583.9" y2="594.50" stroke="#111" stroke-width="1.60"/>
<line x1="1408.00" x2="1408.00" y1="583.9" y2="594.50" stroke="#111" stroke-width="1.60"/>
<line x1="1482.90" x2="1482.90" y1="583.9" y2="594.50" stroke="#111" stroke-width="1.60"/>
<line x1="1555.95" x2="1555.95" y1="583.9" y2="594.50" stroke="#111" stroke-width="1.60"/>
<line x1="1630.70" x2="1630.70" y1="583.9" y2="594.50" stroke="#111" stroke-width="1.60"/>
<line x1="1703.50" x2="1703.50" y1="583.9" y2="594.50" stroke="#111" stroke-width="1.60"/>
<line x1="1778.30" x2="1778.30" y1="583.9" y2="594.50" stroke="#111" stroke-width="1.60"/>
<line x1="1851.40" x2="1851.40" y1="583.9" y2="594.50" stroke="#111" stroke-width="1.60"/>
<line x1="1067.70" x2="1078.3" y1="557.00" y2="557.00" stroke="#111" stroke-width="1.60"/>
<line x1="1067.70" x2="1078.3" y1="474.60" y2="474.60" stroke="#111" stroke-width="1.60"/>
<line x1="1067.70" x2="1078.3" y1="392.00" y2="392.00" stroke="#111" stroke-width="1.60"/>
<line x1="1067.70" x2="1078.3" y1="309.50" y2="309.50" stroke="#111" stroke-width="1.60"/>
<line x1="1067.70" x2="1078.3" y1="225.30" y2="225.30" stroke="#111" stroke-width="1.60"/>
<line x1="1067.70" x2="1078.3" y1="142.70" y2="142.70" stroke="#111" stroke-width="1.60"/>
<line x1="1067.70" x2="1078.3" y1="60.30" y2="60.30" stroke="#111" stroke-width="1.60"/>
<rect x="1550.30" y="18.45" width="324.0" height="183.75" rx="4.20" fill="#fff" fill-opacity="0.8" stroke="#ccc" stroke-opacity="0.7" stroke-width="1.9"/>
</g>
<g filter="url(#blc)">
<line x1="586.80" x2="639.80" y1="42.20" y2="42.20" stroke="#1f77b4" stroke-width="3.60" stroke-linecap="square"/>
<line x1="586.80" x2="639.80" y1="86.33" y2="86.33" stroke="#ff7f0e" stroke-width="3.60" stroke-linecap="square"/>
<line x1="586.80" x2="639.80" y1="130.46" y2="130.46" stroke="#2ca02c" stroke-width="3.60" stroke-linecap="square"/>
<line x1="586.80" x2="639.80" y1="174.59" y2="174.59" stroke="#d62728" stroke-width="3.60" stroke-linecap="square"/>
<line x1="1559.10" x2="1612.10" y1="42.20" y2="42.20" stroke="#1f77b4" stroke-width="3.60" stroke-linecap="square"/>
<line x1="1559.10" x2="1612.10" y1="86.33" y2="86.33" stroke="#ff7f0e" stroke-width="3.60" stroke-linecap="square"/>
<line x1="1559.10" x2="1612.10" y1="130.46" y2="130.46" stroke="#2ca02c" stroke-width="3.60" stroke-linecap="square"/>
<line x1="1559.10" x2="1612.10" y1="174.59" y2="174.59" stroke="#d62728" stroke-width="3.60" stroke-linecap="square"/>
</g>
<g filter="url(#bl)">
<text x="140.40" y="622.9" font-size="25.6" text-anchor="middle">−5</text>
<text x="213.50" y="622.9" font-size="25.6" text-anchor="middle">−4</text>
<text x="288.35" y="622.9" font-size="25.6" text-anchor="middle">−3</text>
<text x="361.10" y="622.9" font-size="25.6" text-anchor="middle">−2</text>
<text x="434.20" y="622.9" font-size="25.6" text-anchor="middle">−1</text>
<text x="510.60" y="622.9" font-size="25.6" text-anchor="middle">0</text>
<text x="583.50" y="622.9" font-size="25.6" text-anchor="middle">1</text>
<text x="656.25" y="622.9" font-size="25.6" text-anchor="middle">2</text>
<text x="731.20" y="622.9" font-size="25.6" text-anchor="middle">3</text>
<text x="805.40" y="622.9" font-size="25.6" text-anchor="middle">4</text>
<text x="877.30" y="622.9" font-size="25.6" text-anchor="middle">5</text>
<text x="85.00" y="568.53" font-size="25.6" text-anchor="end">0.0</text>
<text x="85.00" y="485.93" font-size="25.6" text-anchor="end">0.1</text>
<text x="85.00" y="402.73" font-size="25.6" text-anchor="end">0.2</text>
<text x="85.00" y="318.13" font-size="25.6" text-anchor="end">0.3</text>
<text x="85.00" y="235.93" font-size="25.6" text-anchor="end">0.4</text>
<text x="85.00" y="153.03" font-size="25.6" text-anchor="end">0.5</text>
<text x="85.00" y="70.43" font-size="25.6" text-anchor="end">0.6</text>
<text class="b" x="509.10" y="659.8" font-size="26.28" text-anchor="middle">x</text>
<text class="b" transform="translate(25.90,296.8) rotate(-90)" font-size="26.28" text-anchor="middle" letter-spacing="-0.2">density</text>
<text class="lg" x="663.00" y="51.40" font-size="26.28" xml:space="preserve"><tspan font-style="italic">σ</tspan><tspan dx="-1"> = 0.5 (R</tspan><tspan dx="1"> = 1.0)</tspan></text>
<text class="lg" x="663.00" y="95.53" font-size="26.28" xml:space="preserve"><tspan font-style="italic">σ</tspan><tspan dx="-1"> = 1.0 (R</tspan><tspan dx="1"> = 2.0)</tspan></text>
<text class="lg" x="663.00" y="139.66" font-size="26.28" xml:space="preserve"><tspan font-style="italic">σ</tspan><tspan dx="-1"> = 2.0 (R</tspan><tspan dx="1"> = 4.0)</tspan></text>
<text class="lg" x="663.00" y="183.79" font-size="26.28" xml:space="preserve"><tspan font-style="italic">σ</tspan><tspan dx="-1"> = 4.0 (R</tspan><tspan dx="1"> = 8.0)</tspan></text>
<text x="1113.60" y="622.9" font-size="25.6" text-anchor="middle">−10</text>
<text x="1186.50" y="622.9" font-size="25.6" text-anchor="middle">−8</text>
<text x="1261.50" y="622.9" font-size="25.6" text-anchor="middle">−6</text>
<text x="1333.70" y="622.9" font-size="25.6" text-anchor="middle">−4</text>
<text x="1408.70" y="622.9" font-size="25.6" text-anchor="middle">−2</text>
<text x="1483.40" y="622.9" font-size="25.6" text-anchor="middle">0</text>
<text x="1556.25" y="622.9" font-size="25.6" text-anchor="middle">2</text>
<text x="1630.40" y="622.9" font-size="25.6" text-anchor="middle">4</text>
<text x="1703.20" y="622.9" font-size="25.6" text-anchor="middle">6</text>
<text x="1776.10" y="622.9" font-size="25.6" text-anchor="middle">8</text>
<text x="1850.65" y="622.9" font-size="25.6" text-anchor="middle">10</text>
<text x="1057.80" y="568.53" font-size="25.6" text-anchor="end">0.0</text>
<text x="1057.80" y="485.93" font-size="25.6" text-anchor="end">0.1</text>
<text x="1057.80" y="402.73" font-size="25.6" text-anchor="end">0.2</text>
<text x="1057.80" y="318.13" font-size="25.6" text-anchor="end">0.3</text>
<text x="1057.80" y="235.93" font-size="25.6" text-anchor="end">0.4</text>
<text x="1057.80" y="153.03" font-size="25.6" text-anchor="end">0.5</text>
<text x="1057.80" y="70.43" font-size="25.6" text-anchor="end">0.6</text>
<text class="b" x="1483.00" y="659.8" font-size="26.28" text-anchor="middle">x</text>
<text class="b" transform="translate(998.30,296.8) rotate(-90)" font-size="26.28" text-anchor="middle" letter-spacing="-0.2">density</text>
<text class="lg" x="1635.30" y="51.40" font-size="26.28" xml:space="preserve"><tspan font-style="italic">σ</tspan><tspan dx="-1"> = 0.5 (R</tspan><tspan dx="1"> = 1.0)</tspan></text>
<text class="lg" x="1635.30" y="95.53" font-size="26.28" xml:space="preserve"><tspan font-style="italic">σ</tspan><tspan dx="-1"> = 1.0 (R</tspan><tspan dx="1"> = 2.0)</tspan></text>
<text class="lg" x="1635.30" y="139.66" font-size="26.28" xml:space="preserve"><tspan font-style="italic">σ</tspan><tspan dx="-1"> = 2.0 (R</tspan><tspan dx="1"> = 4.0)</tspan></text>
<text class="lg" x="1635.30" y="183.79" font-size="26.28" xml:space="preserve"><tspan font-style="italic">σ</tspan><tspan dx="-1"> = 4.0 (R</tspan><tspan dx="1"> = 8.0)</tspan></text>
</g>
</svg></body></html>
